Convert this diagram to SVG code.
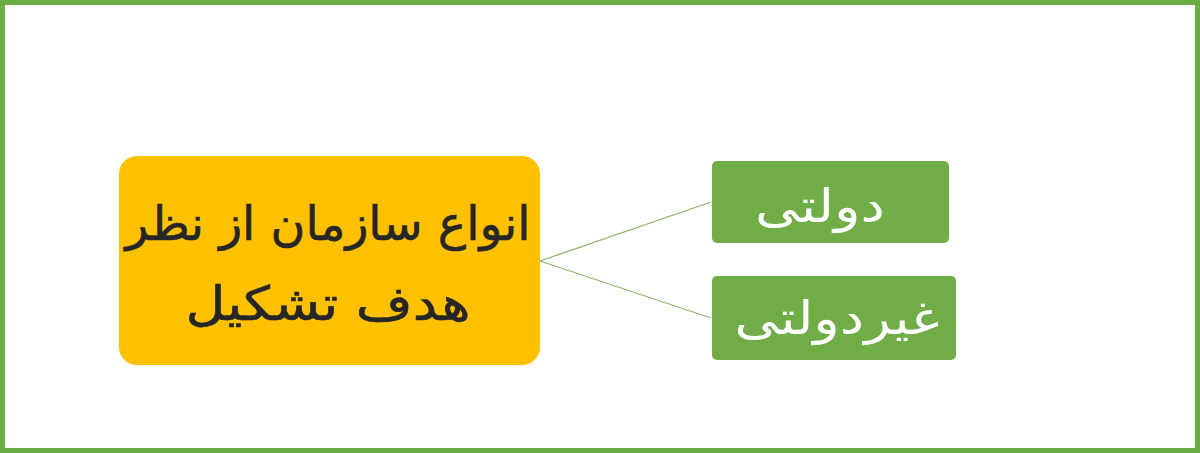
<svg xmlns="http://www.w3.org/2000/svg" width="1200" height="453" viewBox="0 0 1200 453">
<style>
.t{font-family:"DejaVu Sans","Noto Sans",sans-serif;text-anchor:middle;direction:rtl}
.main{font-size:47px;fill:#262626;stroke:#262626;stroke-width:0.6}
.leaf{font-size:46px;fill:#ffffff}
.conn{stroke:#8ab56b;stroke-width:1.3;fill:none}
</style>
<rect x="0" y="0" width="1200" height="453" fill="#ffffff"/>
<rect x="2.5" y="2.5" width="1195" height="448" fill="none" stroke="#6aac44" stroke-width="5"/>
<g id="connectors">
<line class="conn" x1="540" y1="261" x2="711" y2="202"/>
<line class="conn" x1="540" y1="261" x2="711" y2="318"/>
</g>
<g id="root">
<rect x="119" y="156" width="421" height="209" rx="18" fill="#ffc000"/>
<text class="t main" x="328" y="240" textLength="405" lengthAdjust="spacingAndGlyphs">انواع سازمان از نظر</text>
<text class="t main" x="328" y="320" textLength="285" lengthAdjust="spacingAndGlyphs">هدف تشکیل</text>
</g>
<g id="gov">
<rect x="712" y="161" width="237" height="82" rx="5" fill="#70ad47"/>
<text class="t leaf" x="820" y="222" textLength="130" lengthAdjust="spacingAndGlyphs">دولتی</text>
</g>
<g id="nongov">
<rect x="712" y="276" width="244" height="84" rx="5" fill="#70ad47"/>
<text class="t leaf" x="837" y="334" textLength="205" lengthAdjust="spacingAndGlyphs">غیردولتی</text>
</g>
</svg>
